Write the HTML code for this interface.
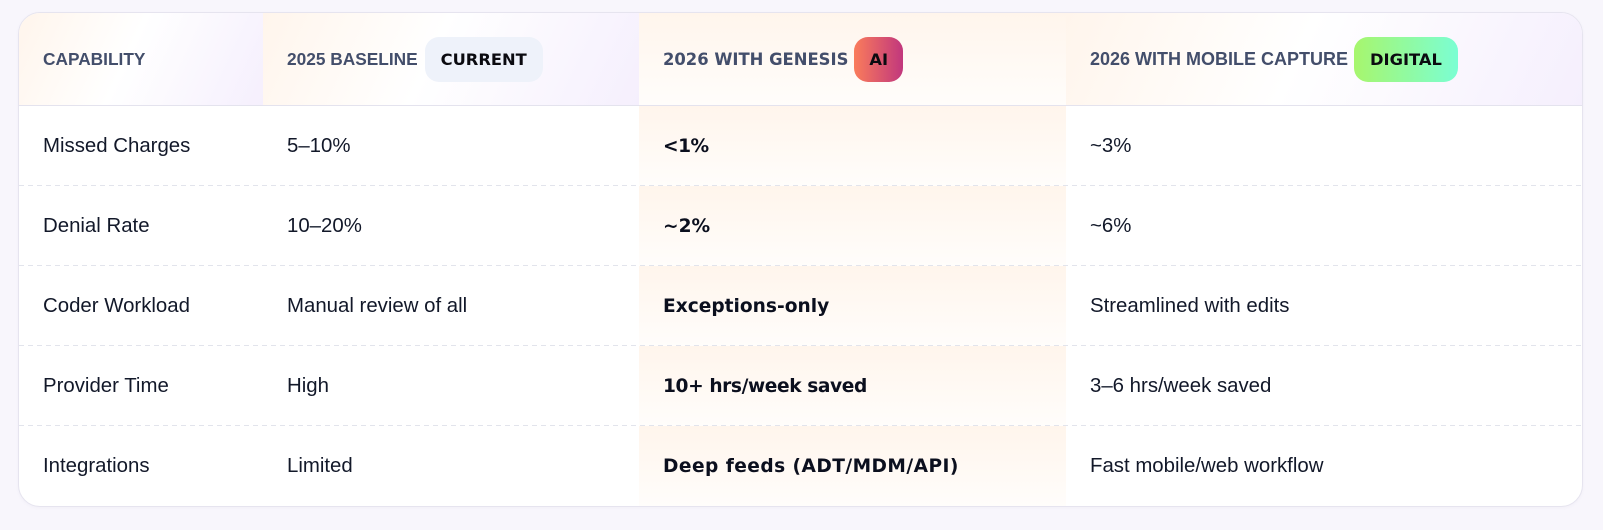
<!DOCTYPE html>
<html>
<head>
<meta charset="utf-8">
<style>
  html, body { margin:0; padding:0; }
  body {
    width:1603px; height:530px; overflow:hidden;
    background:#f8f6fc;
    font-family:"Liberation Sans", sans-serif;
    position:relative;
  }
  .card {
    position:absolute; left:18px; top:12px;
    width:1565px; height:495px; box-sizing:border-box;
    border:1px solid #e6e4ef; border-radius:22px;
    background:#ffffff; overflow:hidden;
    box-shadow:0 1px 3px rgba(120,110,160,0.05);
  }
  .row { display:flex; position:relative; }
  .head { height:92px; border-bottom:1px solid #e4e3ee; }
  .body-row { height:80px; position:relative; }
  .body-row.sep::after {
    content:""; position:absolute; left:0; right:0; bottom:0; height:1px;
    background:repeating-linear-gradient(90deg,#e2e4ec 0 5px,transparent 5px 9px);
  }
  .c { box-sizing:border-box; padding-left:24px; display:flex; align-items:center; height:100%; }
  .c1 { width:244px; }
  .c2 { width:376px; }
  .c3 { width:427px; }
  .c4 { width:516px; }
  .head .c {
    background:linear-gradient(115deg,#fff5ec 0%,#ffffff 45%,#f5effd 100%);
  }
  .head .c3, .body-row .c3 {
    background:linear-gradient(180deg,#fff5ec 0%,#fffdfb 100%);
  }
  .h {
    font-weight:bold; color:#434e6b; white-space:nowrap;
  }
  .h12 { font-family:"Liberation Sans", sans-serif; font-size:17.3px; }
  .h3 { font-family:"DejaVu Sans", sans-serif; font-size:16.4px; }
  .h4 { font-family:"Liberation Sans", sans-serif; font-size:18px; }
  .badge {
    height:45px; box-sizing:border-box; padding:0 16px; border-radius:14px;
    display:inline-flex; align-items:center;
    font-family:"DejaVu Sans", sans-serif; font-weight:bold; font-size:16.3px;
    color:#0b0b10; margin-left:7px; white-space:nowrap;
  }
  .b-cur { background:#eef2fa; }
  .b-ai { background:linear-gradient(90deg,#fa7c5b,#c1377d); padding:0 15px; margin-left:6px; }
  .b-dig { background:linear-gradient(90deg,#a7f66d,#7bfed3); margin-left:6px; }
  .t { font-size:20.4px; color:#121829; white-space:nowrap; }
  .tb { font-family:"DejaVu Sans", sans-serif; font-weight:bold; font-size:18.6px; color:#0b0f1e; white-space:nowrap; }
</style>
</head>
<body>
<div class="card">
  <div class="row head">
    <div class="c c1"><span class="h h12">CAPABILITY</span></div>
    <div class="c c2"><span class="h h12">2025 BASELINE</span><span class="badge b-cur">CURRENT</span></div>
    <div class="c c3"><span class="h h3">2026 WITH GENESIS</span><span class="badge b-ai">AI</span></div>
    <div class="c c4"><span class="h h4">2026 WITH MOBILE CAPTURE</span><span class="badge b-dig">DIGITAL</span></div>
  </div>
  <div class="row body-row sep">
    <div class="c c1"><span class="t">Missed Charges</span></div>
    <div class="c c2"><span class="t">5–10%</span></div>
    <div class="c c3"><span class="tb" style="letter-spacing:-0.5px">&lt;1%</span></div>
    <div class="c c4"><span class="t">~3%</span></div>
  </div>
  <div class="row body-row sep">
    <div class="c c1"><span class="t">Denial Rate</span></div>
    <div class="c c2"><span class="t">10–20%</span></div>
    <div class="c c3"><span class="tb">~2%</span></div>
    <div class="c c4"><span class="t">~6%</span></div>
  </div>
  <div class="row body-row sep">
    <div class="c c1"><span class="t">Coder Workload</span></div>
    <div class="c c2"><span class="t">Manual review of all</span></div>
    <div class="c c3"><span class="tb">Exceptions-only</span></div>
    <div class="c c4"><span class="t">Streamlined with edits</span></div>
  </div>
  <div class="row body-row sep">
    <div class="c c1"><span class="t">Provider Time</span></div>
    <div class="c c2"><span class="t">High</span></div>
    <div class="c c3"><span class="tb" style="letter-spacing:-0.4px">10+ hrs/week saved</span></div>
    <div class="c c4"><span class="t">3–6 hrs/week saved</span></div>
  </div>
  <div class="row body-row">
    <div class="c c1"><span class="t">Integrations</span></div>
    <div class="c c2"><span class="t">Limited</span></div>
    <div class="c c3"><span class="tb" style="letter-spacing:0.45px">Deep feeds (ADT/MDM/API)</span></div>
    <div class="c c4"><span class="t">Fast mobile/web workflow</span></div>
  </div>
</div>
</body>
</html>
